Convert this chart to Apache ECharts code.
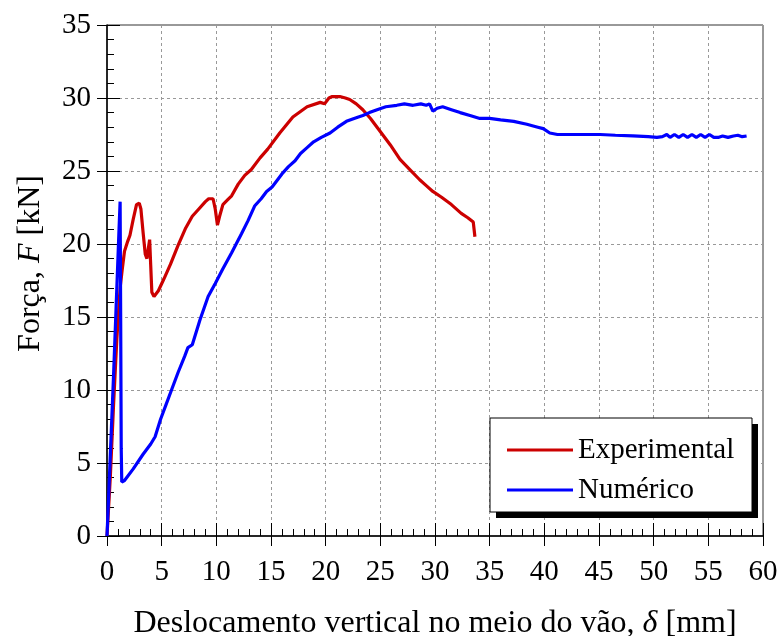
<!DOCTYPE html>
<html>
<head>
<meta charset="utf-8">
<script src="https://cdn.jsdelivr.net/npm/echarts@6/dist/echarts.min.js"></script>
<style>html,body{margin:0;padding:0;background:#fff}#c{width:781px;height:636px}</style>
</head>
<body>
<div id="c"></div>
<script>
const seriesNames = ['Experimental', 'Numérico'];
const xTickLabels = ['0','5','10','15','20','25','30','35','40','45','50','55','60'];
const yTickLabels = ['0','5','10','15','20','25','30','35'];
const experimental = [
  [0,0],[0.3,4],[0.6,9],[0.9,13.5],[1.2,17],[1.4,18.3],[1.6,19.5],[1.9,20.2],[2.1,20.6],[2.4,21.7],
  [2.7,22.7],[2.95,22.8],[3.1,22.4],[3.3,20.8],[3.5,19.3],[3.65,19.0],[3.8,19.8],[3.9,20.3],[4.0,18.5],
  [4.1,16.7],[4.3,16.4],[4.7,16.8],[5.2,17.6],[5.8,18.6],[6.5,19.9],[7.2,21.1],[7.8,21.9],[8.4,22.4],
  [9.0,22.9],[9.3,23.1],[9.7,23.1],[9.9,22.4],[10.1,21.3],[10.3,21.9],[10.6,22.7],[11.0,23.0],[11.4,23.3],
  [12.0,24.1],[12.6,24.7],[13.2,25.1],[14.0,25.9],[14.7,26.5],[15.8,27.6],[17.0,28.7],[18.3,29.4],
  [19.5,29.7],[19.9,29.6],[20.3,30.0],[20.6,30.1],[21.3,30.1],[21.8,30.0],[22.2,29.9],[22.8,29.6],
  [23.4,29.2],[24.1,28.6],[24.7,28.0],[25.9,26.8],[26.8,25.8],[27.7,25.1],[28.6,24.4],[29.2,24.0],
  [29.8,23.6],[30.6,23.2],[31.5,22.7],[32.4,22.1],[33.0,21.8],[33.5,21.5],[33.6,21.5],[33.65,20.5]
];
const numerico = [
  [0,0],[0.3,5.5],[0.6,11],[0.9,17],[1.1,21],[1.2,22.9],[1.25,15],[1.3,6],[1.35,3.7],[1.6,3.8],
  [2.4,4.6],[3.3,5.6],[4.0,6.3],[4.4,6.8],[4.9,8.0],[5.4,9.0],[5.9,10.0],[6.5,11.2],[7.1,12.3],
  [7.4,12.9],[7.8,13.1],[8.5,14.8],[9.25,16.4],[9.9,17.3],[10.6,18.3],[11.4,19.4],[12.3,20.7],
  [12.9,21.6],[13.5,22.6],[14.1,23.1],[14.6,23.6],[15.1,23.9],[15.5,24.3],[16.0,24.8],[16.6,25.3],
  [17.2,25.7],[17.7,26.2],[18.3,26.6],[18.9,27.0],[19.6,27.3],[20.4,27.6],[21.1,28.0],[21.9,28.4],
  [22.6,28.6],[23.4,28.8],[24.0,29.0],[24.7,29.2],[25.5,29.4],[26.5,29.5],[27.2,29.6],[28.0,29.5],
  [28.7,29.6],[29.2,29.5],[29.5,29.6],[29.8,29.1],[30.2,29.3],[30.7,29.4],[31.5,29.2],[32.3,29.0],
  [33.2,28.8],[34.1,28.6],[35.0,28.6],[36.0,28.5],[37.2,28.4],[38.4,28.2],[39.4,28.0],[39.9,27.9],
  [40.5,27.6],[41.2,27.5],[42.1,27.5],[43.0,27.5],[45.1,27.5],[46.5,27.45],[48.1,27.4],[49.5,27.35],
  [50.3,27.3],[50.8,27.35],[51.2,27.5],[51.5,27.3],[51.9,27.5],[52.3,27.3],[52.7,27.5],[53.1,27.3],
  [53.5,27.5],[53.9,27.3],[54.3,27.5],[54.7,27.3],[55.1,27.5],[55.5,27.3],[55.9,27.3],[56.3,27.4],
  [56.8,27.3],[57.3,27.4],[57.7,27.45],[58.1,27.35],[58.5,27.4]
];

const FONT = 'Liberation Serif';
const chart = echarts.init(document.getElementById('c'), null, {renderer: 'canvas'});
const G = {left: 107, top: 25, width: 656, height: 511};
const L = {x: 490, y: 418, w: 262, h: 94};

const baseX = {type: 'value', min: 0, max: 60, interval: 5, gridIndex: 0};
const baseY = {type: 'value', min: 0, max: 35, interval: 5, gridIndex: 0};

chart.setOption({
  animation: false,
  backgroundColor: '#fff',
  grid: {left: G.left, top: G.top, width: G.width, height: G.height, show: true, borderColor: '#333', borderWidth: 1,
    backgroundColor: 'transparent', containLabel: false, outerBoundsMode: 'none'},
  xAxis: [
    Object.assign({}, baseX, {
      position: 'bottom',
      axisLine: {show: true, lineStyle: {color: '#000', width: 1.5}},
      axisTick: {show: true, inside: false, length: 10, lineStyle: {color: '#000', width: 1}},
      axisLabel: {show: true, margin: 22, color: '#000', fontFamily: FONT, fontSize: 29,
        formatter: (v) => xTickLabels[Math.round(v / 5)]},
      splitLine: {show: true, lineStyle: {color: '#999', type: [3, 3], width: 1}},
      name: 'Deslocamento vertical no meio do vão, {i|δ} [mm]',
      nameLocation: 'middle', nameGap: 72,
      nameTextStyle: {color: '#000', fontFamily: FONT, fontSize: 32,
        rich: {i: {fontStyle: 'italic', fontFamily: FONT, fontSize: 32, color: '#000'}}}
    }),
    Object.assign({}, baseX, {
      position: 'bottom',
      axisLine: {show: false},
      axisTick: {show: true, inside: true, length: 13, lineStyle: {color: '#000', width: 1}},
      minorTick: {show: true, splitNumber: 5, length: 7, lineStyle: {color: '#000', width: 1}},
      axisLabel: {show: false},
      splitLine: {show: false}
    })
  ],
  yAxis: [
    Object.assign({}, baseY, {
      position: 'left',
      axisLine: {show: true, lineStyle: {color: '#000', width: 1.5}},
      axisTick: {show: true, inside: false, length: 10, lineStyle: {color: '#000', width: 1}},
      axisLabel: {show: true, margin: 16, color: '#000', fontFamily: FONT, fontSize: 29,
        formatter: (v) => yTickLabels[Math.round(v / 5)]},
      splitLine: {show: true, lineStyle: {color: '#999', type: [3, 3], width: 1}},
      name: 'Força, {i|F} [kN]',
      nameLocation: 'middle', nameGap: 60, nameRotate: 90,
      nameTextStyle: {color: '#000', fontFamily: FONT, fontSize: 32, padding: [0, 0, 0, 34],
        rich: {i: {fontStyle: 'italic', fontFamily: FONT, fontSize: 32, color: '#000'}}}
    }),
    Object.assign({}, baseY, {
      position: 'left',
      axisLine: {show: false},
      axisTick: {show: true, inside: true, length: 13, lineStyle: {color: '#000', width: 1}},
      minorTick: {show: true, splitNumber: 5, length: 7, lineStyle: {color: '#000', width: 1}},
      axisLabel: {show: false},
      splitLine: {show: false}
    })
  ],
  legend: {
    orient: 'vertical', left: 502, top: 428, z: 10,
    itemWidth: 66, itemHeight: 3, itemGap: 6, icon: 'rect',
    data: seriesNames,
    textStyle: {color: '#000', fontFamily: FONT, fontSize: 29, lineHeight: 34, padding: [0, 0, 0, 0]}
  },
  graphic: [
    {type: 'rect', z: 5, shape: {x: L.x + 6, y: L.y + 6, width: L.w, height: L.h}, style: {fill: '#000'}},
    {type: 'rect', z: 6, shape: {x: L.x, y: L.y, width: L.w, height: L.h}, style: {fill: '#fff', stroke: '#000', lineWidth: 1}}
  ],
  series: [
    {name: seriesNames[0], type: 'line', data: experimental, xAxisIndex: 0, yAxisIndex: 0, showSymbol: false, symbol: 'none',
      lineStyle: {color: '#cc0000', width: 3.2}, itemStyle: {color: '#cc0000'}, z: 3},
    {name: seriesNames[1], type: 'line', data: numerico, xAxisIndex: 0, yAxisIndex: 0, showSymbol: false, symbol: 'none',
      lineStyle: {color: '#0000ff', width: 3.2}, itemStyle: {color: '#0000ff'}, z: 4}
  ]
});
</script>
</body>
</html>
